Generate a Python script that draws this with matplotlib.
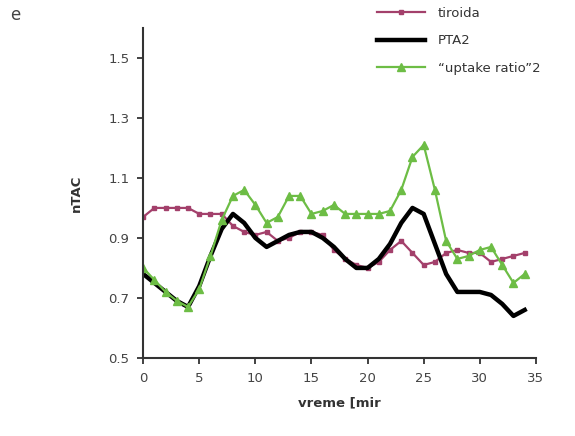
import matplotlib.pyplot as plt

# vreme [min]
time_min = list(range(35))

tiroida = [0.97, 1.00, 1.00, 1.00, 1.00, 0.98, 0.98, 0.98, 0.94, 0.92,
           0.91, 0.92, 0.89, 0.90, 0.92, 0.92, 0.91, 0.86, 0.83, 0.81,
           0.80, 0.82, 0.86, 0.89, 0.85, 0.81, 0.82, 0.85, 0.86, 0.85,
           0.85, 0.82, 0.83, 0.84, 0.85]

pta2 = [0.78, 0.75, 0.72, 0.69, 0.67, 0.74, 0.84, 0.93, 0.98, 0.95,
        0.90, 0.87, 0.89, 0.91, 0.92, 0.92, 0.90, 0.87, 0.83, 0.80,
        0.80, 0.83, 0.88, 0.95, 1.00, 0.98, 0.88, 0.78, 0.72, 0.72,
        0.72, 0.71, 0.68, 0.64, 0.66]

uptake_ratio2 = [0.80, 0.76, 0.72, 0.69, 0.67, 0.73, 0.84, 0.96, 1.04, 1.06,
                 1.01, 0.95, 0.97, 1.04, 1.04, 0.98, 0.99, 1.01, 0.98, 0.98,
                 0.98, 0.98, 0.99, 1.06, 1.17, 1.21, 1.06, 0.89, 0.83, 0.84,
                 0.86, 0.87, 0.81, 0.75, 0.78]

y_ticks = [0.5, 0.7, 0.9, 1.1, 1.3, 1.5]
x_ticks = [0, 5, 10, 15, 20, 25, 30, 35]

fig = plt.figure(figsize=(5.75, 4.36), dpi=100)
ax = fig.add_axes([0.249, 0.179, 0.683, 0.757])

ax.plot(time_min, tiroida, '-', color='#a3406b', linewidth=1.6,
        marker='s', markersize=3, label='tiroida')
ax.plot(time_min, pta2, '-', color='black', linewidth=3.2, label='PTA2')
ax.plot(time_min, uptake_ratio2, '-', color='#6dbd45', linewidth=1.6,
        marker='^', markersize=6, label='\u201cuptake ratio\u201d2')

ax.set_xlim(0, 35)
ax.set_ylim(0.5, 1.6)
ax.set_xticks(x_ticks)
ax.set_yticks(y_ticks)
ax.set_yticklabels([f'{v:.1f}' for v in y_ticks])

for side in ['top', 'right']:
    ax.spines[side].set_visible(False)
for side in ['left', 'bottom']:
    ax.spines[side].set_linewidth(1.5)
    ax.spines[side].set_color('#333333')

ax.tick_params(direction='out', length=4, width=1.3, color='#333333',
               labelsize=9.5, labelcolor='#444444', pad=6)

ax.set_xlabel('vreme [mir', fontsize=9.5, fontweight='bold', color='#333333', labelpad=8)
ax.set_ylabel('nTAC', fontsize=9.5, fontweight='bold', color='#333333', labelpad=18)

fig.text(0.018, 0.955, 'e', fontsize=12, color='#444444')

ax.legend(loc='upper left', bbox_to_anchor=(0.635, 1.012), bbox_transform=fig.transFigure,
          frameon=False, fontsize=9.5, handlelength=3.6, handletextpad=1.0,
          labelspacing=1.1, numpoints=1, labelcolor='#333333')

fig.savefig('out.png', dpi=100)
